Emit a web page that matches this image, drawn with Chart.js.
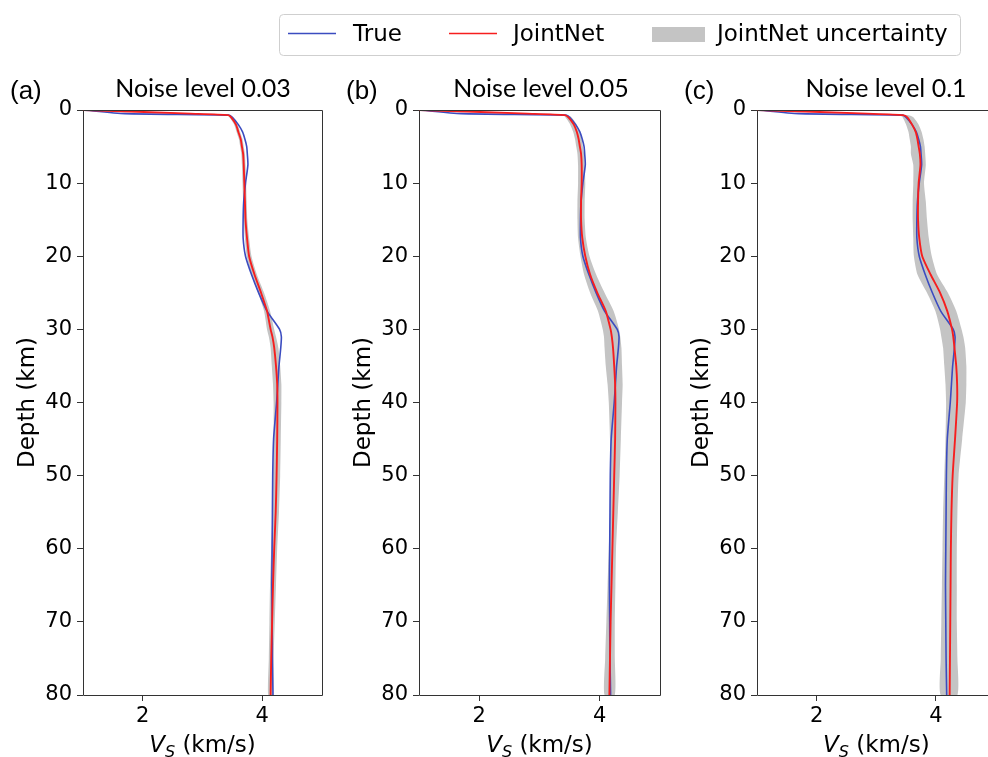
<!DOCTYPE html>
<html>
<head>
<meta charset="utf-8">
<script src="https://cdn.jsdelivr.net/npm/chart.js@4.4.1/dist/chart.umd.min.js"></script>
<style>
  html, body { margin: 0; padding: 0; background: #fff; overflow: hidden; }
  #view { position: absolute; left: 0; top: 0; width: 988px; height: 757px; overflow: hidden; }
  #inner { position: relative; width: 1000px; height: 757px; }
  canvas { position: absolute; left: 0; top: 0; }
</style>
</head>
<body>
<div id="view"><div id="inner">
<canvas id="pa" width="1000" height="757"></canvas>
<canvas id="pb" width="1000" height="757"></canvas>
<canvas id="pc" width="1000" height="757"></canvas>
</div></div>
<script>
// depth samples (km) shared by all profiles
const depth = [0, 0.5, 0.7, 1, 2, 3, 4, 5, 6, 7.5, 10, 12.5, 15, 17.5, 20, 22.5, 25, 27.5, 30, 31, 32.5, 35, 37.5, 40, 45, 50, 55, 60, 65, 70, 75, 80];

// true Vs model (km/s)
const trueVs = [1.0, 1.7, 3.44, 3.50, 3.60, 3.67, 3.71, 3.74, 3.75, 3.76, 3.72, 3.69, 3.68, 3.68, 3.72, 3.82, 3.94, 4.08, 4.29, 4.32, 4.31, 4.28, 4.26, 4.24, 4.19, 4.175, 4.17, 4.165, 4.16, 4.165, 4.17, 4.18];

// JointNet, noise 0.03
const jointA = [1.0, 2.8, 3.43, 3.48, 3.56, 3.60, 3.64, 3.66, 3.68, 3.69, 3.70, 3.71, 3.72, 3.745, 3.78, 3.87, 3.98, 4.08, 4.14, 4.17, 4.20, 4.23, 4.25, 4.255, 4.25, 4.24, 4.225, 4.20, 4.18, 4.165, 4.15, 4.14];
const lowA   = [1.0, 2.78, 3.40, 3.45, 3.53, 3.57, 3.61, 3.63, 3.65, 3.66, 3.67, 3.68, 3.69, 3.71, 3.74, 3.82, 3.93, 4.03, 4.08, 4.11, 4.14, 4.16, 4.18, 4.19, 4.19, 4.18, 4.17, 4.15, 4.13, 4.12, 4.11, 4.10];
const highA  = [1.0, 2.82, 3.46, 3.51, 3.59, 3.63, 3.67, 3.69, 3.71, 3.72, 3.73, 3.74, 3.75, 3.78, 3.82, 3.91, 4.03, 4.13, 4.20, 4.23, 4.27, 4.30, 4.32, 4.32, 4.31, 4.30, 4.28, 4.25, 4.23, 4.21, 4.19, 4.18];

// JointNet, noise 0.05
const jointB = [1.0, 2.8, 3.42, 3.48, 3.57, 3.62, 3.65, 3.67, 3.69, 3.70, 3.70, 3.69, 3.69, 3.71, 3.76, 3.84, 3.96, 4.10, 4.18, 4.20, 4.22, 4.24, 4.255, 4.26, 4.255, 4.24, 4.225, 4.21, 4.195, 4.18, 4.17, 4.16];
const lowB   = [1.0, 2.75, 3.38, 3.43, 3.51, 3.56, 3.59, 3.61, 3.63, 3.64, 3.64, 3.63, 3.63, 3.64, 3.68, 3.74, 3.84, 3.97, 4.05, 4.07, 4.08, 4.10, 4.13, 4.15, 4.17, 4.18, 4.17, 4.15, 4.13, 4.11, 4.09, 4.08];
const highB  = [1.0, 2.85, 3.47, 3.53, 3.62, 3.67, 3.70, 3.72, 3.74, 3.75, 3.76, 3.75, 3.75, 3.77, 3.83, 3.94, 4.08, 4.23, 4.32, 4.34, 4.36, 4.37, 4.38, 4.37, 4.35, 4.33, 4.30, 4.27, 4.26, 4.25, 4.25, 4.25];

// JointNet, noise 0.1
const jointC = [1.0, 2.85, 3.45, 3.52, 3.60, 3.66, 3.69, 3.71, 3.73, 3.74, 3.71, 3.70, 3.70, 3.72, 3.77, 3.91, 4.07, 4.19, 4.27, 4.29, 4.31, 4.34, 4.355, 4.355, 4.32, 4.28, 4.26, 4.25, 4.245, 4.24, 4.235, 4.23];
const lowC   = [1.0, 2.75, 3.38, 3.44, 3.50, 3.54, 3.56, 3.58, 3.58, 3.62, 3.62, 3.61, 3.61, 3.62, 3.63, 3.69, 3.85, 3.99, 4.07, 4.09, 4.12, 4.14, 4.16, 4.17, 4.16, 4.14, 4.12, 4.11, 4.10, 4.09, 4.08, 4.08];
const highC  = [1.0, 2.95, 3.52, 3.62, 3.71, 3.76, 3.79, 3.81, 3.82, 3.83, 3.80, 3.83, 3.85, 3.88, 3.93, 4.02, 4.20, 4.34, 4.43, 4.46, 4.49, 4.51, 4.51, 4.50, 4.44, 4.38, 4.36, 4.35, 4.35, 4.35, 4.36, 4.36];

const panelTitles = ['Noise level 0.03', 'Noise level 0.05', 'Noise level 0.1'];
const panelTags = ['(a)', '(b)', '(c)'];
const vsTicks = [2, 4];
const legendLabels = ['True', 'JointNet', 'JointNet uncertainty'];

const BLUE = '#3b4cc0';
const RED = '#f61e1e';
const GREY = 'rgb(196,196,196)';
const FONT = 'DejaVu Sans';
const VIEW_W = 988;

function profile(vs) {
  return depth.map((d, i) => ({ x: vs[i], y: d }));
}

function band(lo, hi) {
  // closed outline: down the upper edge, back up the lower edge
  const down = depth.map((d, i) => ({ x: hi[i], y: d }));
  const up = depth.map((d, i) => ({ x: lo[i], y: d })).reverse();
  return down.concat(up);
}

const panelDecor = {
  id: 'panelDecor',
  afterDraw(chart, args, opts) {
    const { ctx, chartArea: a } = chart;
    const l = Math.round(a.left) + 0.5, r = Math.round(a.right) + 0.5;
    const t = Math.round(a.top) + 0.5, b = Math.round(a.bottom) + 0.5;
    ctx.save();
    // spines (right one only when it is inside the page)
    ctx.strokeStyle = '#333';
    ctx.lineWidth = 1;
    ctx.beginPath();
    ctx.moveTo(l, t); ctx.lineTo(r, t);
    ctx.moveTo(l, b); ctx.lineTo(r, b);
    ctx.moveTo(l, t); ctx.lineTo(l, b);
    if (r < VIEW_W) { ctx.moveTo(r, t); ctx.lineTo(r, b); }
    ctx.stroke();

    // title and panel tag
    ctx.fillStyle = '#000';
    ctx.textBaseline = 'alphabetic';
    ctx.textAlign = 'center';
    ctx.font = '25px Lato';
    ctx.fillText(opts.title, opts.titleX, 97);
    ctx.textAlign = 'left';
    ctx.font = '26px "Liberation Sans"';
    ctx.fillText(opts.tag, a.left - 73, 99);

    // x label: V_S (km/s)
    const cx = (a.left + a.right) / 2;
    ctx.font = 'italic 23px "' + FONT + '"';
    const wV = ctx.measureText('V').width;
    ctx.font = 'italic 16px "' + FONT + '"';
    const wS = ctx.measureText('S').width;
    ctx.font = '23px "' + FONT + '"';
    const wR = ctx.measureText(' (km/s)').width;
    let x = cx - (wV + wS + wR) / 2;
    ctx.font = 'italic 23px "' + FONT + '"';
    ctx.fillText('V', x, 752);
    x += wV;
    ctx.font = 'italic 16px "' + FONT + '"';
    ctx.fillText('S', x, 757);
    x += wS;
    ctx.font = '23px "' + FONT + '"';
    ctx.fillText(' (km/s)', x, 752);

    if (opts.legend) {
      ctx.beginPath();
      ctx.roundRect(279.5, 14.5, 681, 41, 4);
      ctx.fillStyle = 'rgba(255,255,255,0.8)';
      ctx.fill();
      ctx.strokeStyle = '#cfcfcf';
      ctx.stroke();

      ctx.lineWidth = 1.6;
      ctx.strokeStyle = BLUE;
      ctx.beginPath(); ctx.moveTo(288, 33.5); ctx.lineTo(336, 33.5); ctx.stroke();
      ctx.strokeStyle = RED;
      ctx.beginPath(); ctx.moveTo(449, 33.5); ctx.lineTo(497, 33.5); ctx.stroke();
      ctx.fillStyle = GREY;
      ctx.fillRect(652, 27, 53, 15);

      ctx.fillStyle = '#000';
      ctx.font = '23px "' + FONT + '"';
      ctx.fillText(legendLabels[0], 353, 41);
      ctx.fillText(legendLabels[1], 513, 41);
      ctx.fillText(legendLabels[2], 717, 41);
    }
    ctx.restore();
  }
};

function makePanel(id, i, joint, lo, hi, left, right, titleX) {
  const tickFont = { family: FONT, size: 21 };
  return new Chart(document.getElementById(id).getContext('2d'), {
    type: 'scatter',
    data: {
      datasets: [
        { label: 'JointNet', data: profile(joint), showLine: true, borderColor: RED, borderWidth: 1.9, pointRadius: 0, tension: 0.2 },
        { label: 'True', data: profile(trueVs), showLine: true, borderColor: BLUE, borderWidth: 1.6, pointRadius: 0, tension: 0.2 },
        { label: 'JointNet uncertainty', data: band(lo, hi), showLine: true, borderWidth: 0, borderColor: GREY,
          backgroundColor: GREY, fill: 'shape', pointRadius: 0, tension: 0.2 }
      ]
    },
    options: {
      responsive: false,
      animation: false,
      events: [],
      layout: { autoPadding: false, padding: { left: left - 80, right: 1000 - right, top: 110, bottom: 0 } },
      plugins: {
        legend: { display: false },
        tooltip: { enabled: false },
        panelDecor: { title: panelTitles[i], tag: panelTags[i], titleX: titleX, legend: i === 2 }
      },
      scales: {
        x: {
          type: 'linear', min: 1, max: 5,
          afterBuildTicks(s) { s.ticks = vsTicks.map(v => ({ value: v })); },
          ticks: { color: '#000', font: tickFont, padding: 3 },
          grid: { drawOnChartArea: false, tickLength: 6, color: '#333' },
          border: { display: false },
          afterFit(s) { s.height = 62; s.paddingLeft = 0; s.paddingRight = 0; }
        },
        y: {
          type: 'linear', min: 0, max: 80, reverse: true,
          ticks: { stepSize: 10, color: '#000', font: tickFont, padding: 5 },
          grid: { drawOnChartArea: false, tickLength: 6, color: '#333' },
          border: { display: false },
          title: { display: true, text: 'Depth (km)', color: '#000', font: { family: FONT, size: 23 }, padding: { top: 11, bottom: 0 } },
          afterFit(s) { s.width = 80; }
        }
      }
    },
    plugins: [panelDecor]
  });
}

makePanel('pa', 0, jointA, lowA, highA, 83, 322, 203);
makePanel('pb', 1, jointB, lowB, highB, 419, 660, 541);
makePanel('pc', 2, jointC, lowC, highC, 757, 995.6, 886);
</script>
</body>
</html>
